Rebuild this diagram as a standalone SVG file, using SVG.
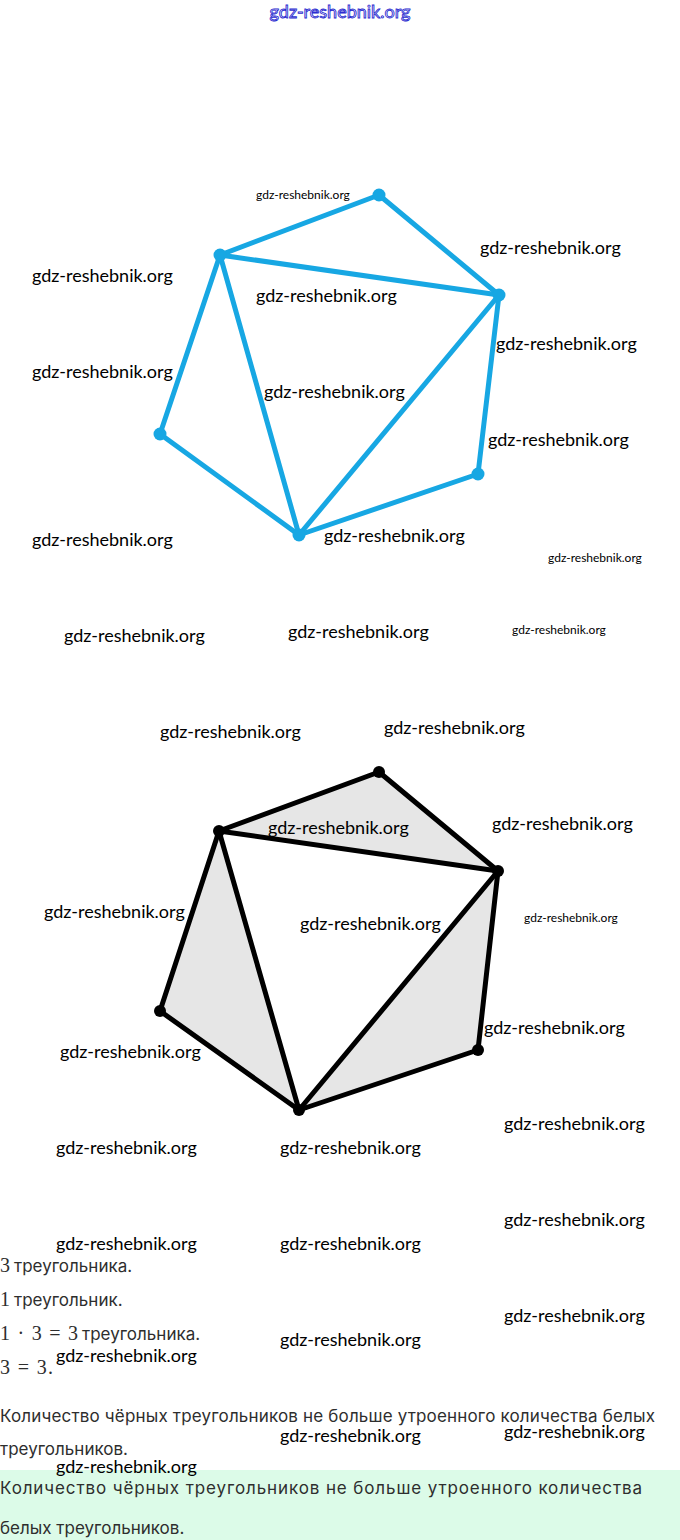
<svg xmlns="http://www.w3.org/2000/svg" width="680" height="1540" viewBox="0 0 680 1540">
<style>
.wm{font-family:Lato,"Open Sans","Liberation Sans",sans-serif;font-size:18px;fill:#000}
.wms{font-family:Lato,"Open Sans","Liberation Sans",sans-serif;font-size:12px;fill:#000}
.hdr{font-family:Lato,"Liberation Sans",sans-serif;font-size:18px;fill:#fff;stroke:#2b2bd0;stroke-width:0.9}
.be{stroke:#17a7e3;stroke-width:5;stroke-linecap:round;fill:none}
.bd{fill:#17a7e3}
.ke{stroke:#000;stroke-width:5;stroke-linecap:round;fill:none}
.kd{fill:#000}
.sh{fill:#e6e6e6}
.tx{font-family:Inter,"Noto Sans","Liberation Sans",sans-serif;font-size:17px;fill:#2e2e2e}
.mt{font-family:"Liberation Serif","DejaVu Serif",serif;font-size:20px;fill:#2e2e2e}
</style>
<rect x="0" y="0" width="680" height="1540" fill="#fff"/>
<text class="hdr" x="340" y="18" text-anchor="middle">gdz-reshebnik.org</text>

<g id="graph-top">
<g id="edges-top">
<line class="be" x1="379" y1="195" x2="220" y2="255"/>
<line class="be" x1="379" y1="195" x2="499" y2="295"/>
<line class="be" x1="220" y1="255" x2="499" y2="295"/>
<line class="be" x1="220" y1="255" x2="160" y2="434"/>
<line class="be" x1="220" y1="255" x2="299" y2="535"/>
<line class="be" x1="160" y1="434" x2="299" y2="535"/>
<line class="be" x1="499" y1="295" x2="299" y2="535"/>
<line class="be" x1="499" y1="295" x2="478" y2="474"/>
<line class="be" x1="478" y1="474" x2="299" y2="535"/>
</g>
<g id="t-A"><circle class="bd" cx="379" cy="195" r="6.5"/></g>
<g id="t-B"><circle class="bd" cx="220" cy="255" r="6.5"/></g>
<g id="t-C"><circle class="bd" cx="499" cy="295" r="6.5"/></g>
<g id="t-D"><circle class="bd" cx="160" cy="434" r="6.5"/></g>
<g id="t-E"><circle class="bd" cx="478" cy="474" r="6.5"/></g>
<g id="t-F"><circle class="bd" cx="299" cy="535" r="6.5"/></g>
</g>

<g id="graph-bottom">
<g id="shading">
<polygon class="sh" points="379,772 219,831 498,871"/>
<polygon class="sh" points="219,831 160,1011 299,1110"/>
<polygon class="sh" points="498,871 478,1050 299,1110"/>
</g>
<g id="edges-bottom">
<line class="ke" x1="379" y1="772" x2="219" y2="831"/>
<line class="ke" x1="379" y1="772" x2="498" y2="871"/>
<line class="ke" x1="219" y1="831" x2="498" y2="871"/>
<line class="ke" x1="219" y1="831" x2="160" y2="1011"/>
<line class="ke" x1="219" y1="831" x2="299" y2="1110"/>
<line class="ke" x1="160" y1="1011" x2="299" y2="1110"/>
<line class="ke" x1="498" y1="871" x2="299" y2="1110"/>
<line class="ke" x1="498" y1="871" x2="478" y2="1050"/>
<line class="ke" x1="478" y1="1050" x2="299" y2="1110"/>
</g>
<g id="b-A"><circle class="kd" cx="379" cy="772" r="6"/></g>
<g id="b-B"><circle class="kd" cx="219" cy="831" r="6"/></g>
<g id="b-C"><circle class="kd" cx="498" cy="871" r="6"/></g>
<g id="b-D"><circle class="kd" cx="160" cy="1011" r="6"/></g>
<g id="b-E"><circle class="kd" cx="478" cy="1050" r="6"/></g>
<g id="b-F"><circle class="kd" cx="299" cy="1110" r="6"/></g>
</g>

<g id="text-block">
<text class="mt" x="0" y="1272">3</text>
<text class="tx" x="14" y="1272">треугольника.</text>
<text class="mt" x="0" y="1306">1</text>
<text class="tx" x="14" y="1306">треугольник.</text>
<text class="mt" x="0" y="1340" textLength="78" lengthAdjust="spacing">1 · 3 = 3</text>
<text class="tx" x="82" y="1340">треугольника.</text>
<text class="mt" x="0" y="1374" textLength="53" lengthAdjust="spacing">3 = 3.</text>
<text class="tx" x="0" y="1422" textLength="655">Количество чёрных треугольников не больше утроенного количества белых</text>
<text class="tx" x="0" y="1455">треугольников.</text>
</g>
<g id="answer">
<rect x="0" y="1470" width="680" height="70" fill="#dcfbe8"/>
<text class="tx" x="0" y="1494" textLength="642">Количество чёрных треугольников не больше утроенного количества</text>
<text class="tx" x="0" y="1534">белых треугольников.</text>
</g>

<g id="watermarks">
<text class="wms" x="256" y="199">gdz-reshebnik.org</text>
<text class="wm" x="480" y="254">gdz-reshebnik.org</text>
<text class="wm" x="32" y="282">gdz-reshebnik.org</text>
<text class="wm" x="256" y="302">gdz-reshebnik.org</text>
<text class="wm" x="496" y="350">gdz-reshebnik.org</text>
<text class="wm" x="32" y="378">gdz-reshebnik.org</text>
<text class="wm" x="264" y="398">gdz-reshebnik.org</text>
<text class="wm" x="488" y="446">gdz-reshebnik.org</text>
<text class="wm" x="32" y="546">gdz-reshebnik.org</text>
<text class="wm" x="324" y="542">gdz-reshebnik.org</text>
<text class="wms" x="548" y="562">gdz-reshebnik.org</text>
<text class="wm" x="64" y="642">gdz-reshebnik.org</text>
<text class="wm" x="288" y="638">gdz-reshebnik.org</text>
<text class="wms" x="512" y="634">gdz-reshebnik.org</text>
<text class="wm" x="160" y="738">gdz-reshebnik.org</text>
<text class="wm" x="384" y="734">gdz-reshebnik.org</text>
<text class="wm" x="268" y="834">gdz-reshebnik.org</text>
<text class="wm" x="492" y="830">gdz-reshebnik.org</text>
<text class="wm" x="44" y="918">gdz-reshebnik.org</text>
<text class="wm" x="300" y="930">gdz-reshebnik.org</text>
<text class="wms" x="524" y="922">gdz-reshebnik.org</text>
<text class="wm" x="484" y="1034">gdz-reshebnik.org</text>
<text class="wm" x="60" y="1058">gdz-reshebnik.org</text>
<text class="wm" x="56" y="1154">gdz-reshebnik.org</text>
<text class="wm" x="280" y="1154">gdz-reshebnik.org</text>
<text class="wm" x="504" y="1130">gdz-reshebnik.org</text>
<text class="wm" x="504" y="1226">gdz-reshebnik.org</text>
<text class="wm" x="56" y="1250">gdz-reshebnik.org</text>
<text class="wm" x="280" y="1250">gdz-reshebnik.org</text>
<text class="wm" x="504" y="1322">gdz-reshebnik.org</text>
<text class="wm" x="280" y="1346">gdz-reshebnik.org</text>
<text class="wm" x="56" y="1362">gdz-reshebnik.org</text>
<text class="wm" x="280" y="1442">gdz-reshebnik.org</text>
<text class="wm" x="504" y="1438">gdz-reshebnik.org</text>
<text class="wm" x="56" y="1473">gdz-reshebnik.org</text>
</g>
</svg>
